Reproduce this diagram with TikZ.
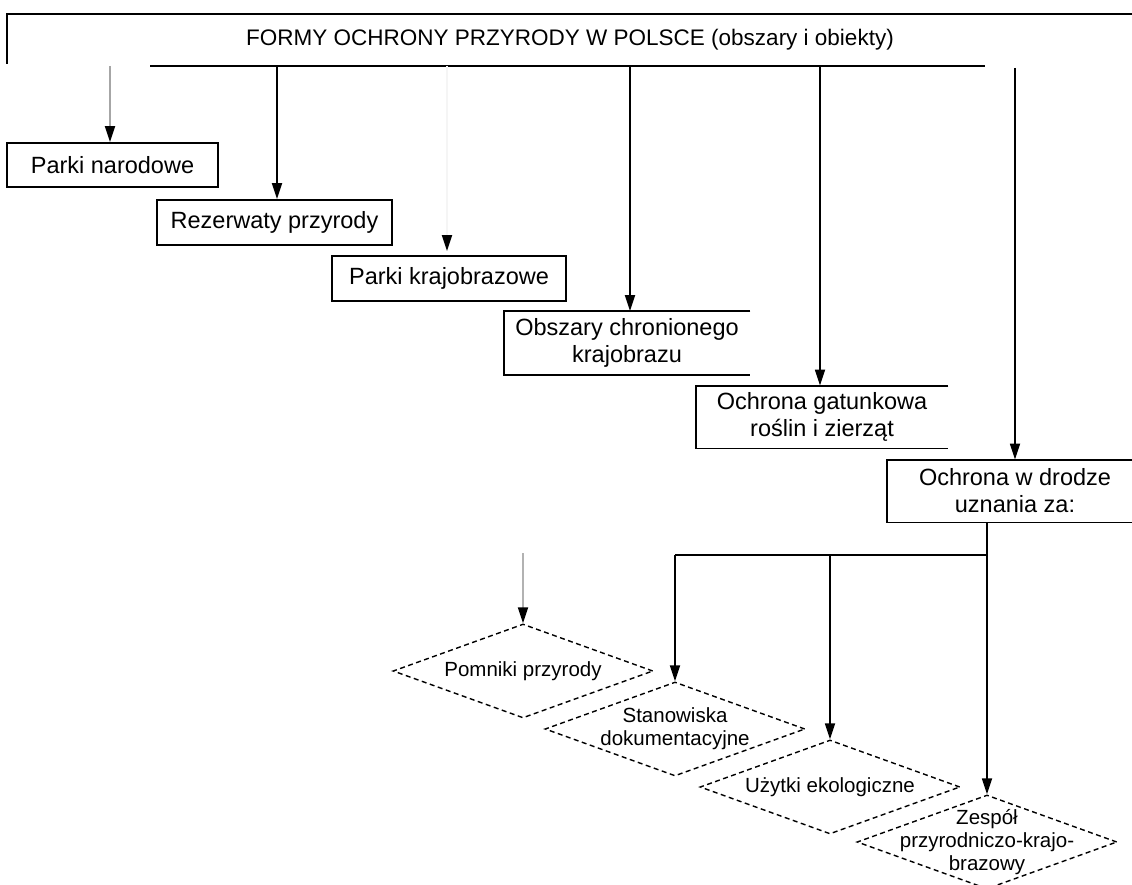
\documentclass[tikz,border=0pt]{standalone}
\usepackage{fontspec}
\setmainfont{Liberation Sans}
\usetikzlibrary{arrows.meta}
\usetikzlibrary{shapes.geometric}
\usetikzlibrary{positioning}

\tikzset{
  forma/.style={align=center, inner sep=0pt, font=\fontsize{23.5}{27}\selectfont},
  obiekt/.style={diamond, draw, dash pattern=on 5pt off 3.5pt, line width=1.4pt,
    minimum width=260pt, minimum height=94pt, inner sep=0pt},
  napis/.style={align=center, inner sep=0pt, font=\fontsize{20.5}{23}\selectfont},
  strz/.style={-{Triangle[length=16pt, width=10pt]}},
  blady/.style={draw=black!#1, -{Triangle[length=16pt, width=10pt, color=black]}}
}

\begin{document}
\begin{tikzpicture}[x=1pt, y=-1pt, line width=1.8pt]
    \useasboundingbox (0, 0) rectangle (1132, 885);

    % naglowek
    \node[inner sep=0pt, font=\fontsize{22.5}{26}\selectfont] (formy) at (570, 40)
      {FORMY OCHRONY PRZYRODY W POLSCE (obszary i obiekty)};
    \draw (1132, 14) -- (7, 14) -- (7, 64);
    \draw (150, 66) -- (985, 66);

    % obszary
    \node[forma, draw, minimum width=211pt, minimum height=44pt] (narodowe) at (112.5, 165) {Parki narodowe};
    \node[forma, draw, minimum width=235pt, minimum height=45pt] (rezerwaty) at (274.5, 222.5) {Rezerwaty przyrody};
    \node[forma, draw, minimum width=234pt, minimum height=45pt] (krajobrazowe) at (449, 278.5) {Parki krajobrazowe};
    \node[forma, minimum width=245pt, minimum height=62pt] (chronione) at (627, 343) {Obszary chronionego\\krajobrazu};
    \node[forma, minimum width=251pt, minimum height=61pt] (gatunkowa) at (822, 417) {Ochrona gatunkowa\\roślin i zierząt};
    \node[forma, minimum width=254pt, minimum height=61pt] (uznanie) at (1015, 491) {Ochrona w drodze\\uznania za:};
    \draw (chronione.north east) -- (chronione.north west) -- (chronione.south west) -- (chronione.south east);
    \draw (gatunkowa.north east) -- (gatunkowa.north west) -- (gatunkowa.south west) -- (gatunkowa.south east);
    \draw (uznanie.north east) -- (uznanie.north west) -- (uznanie.south west) -- (uznanie.south east);

    \coordinate (f1) at (110, 66);
    \coordinate (f2) at (277, 66);
    \coordinate (f3) at (447, 66);
    \coordinate (f4) at (630, 66);
    \coordinate (f5) at (820, 66);
    \coordinate (f6) at (1015, 68);
    \draw[blady=35] (f1) -- (f1 |- narodowe.north);
    \draw[strz] (f2) -- (f2 |- rezerwaty.north);
    \draw[blady=4, shorten >=4pt] (f3) -- (f3 |- krajobrazowe.north);
    \draw[strz] (f4) -- (f4 |- chronione.north);
    \draw[strz] (f5) -- (f5 |- gatunkowa.north);
    \draw[strz] (f6) -- (f6 |- uznanie.north);

    % obiekty
    \node[obiekt, label={[napis]center:Pomniki przyrody}] (pomniki) at (523, 671) {};
    \node[obiekt, label={[napis]center:Stanowiska\\dokumentacyjne}] (stanowiska) at (675, 729) {};
    \node[obiekt, label={[napis]center:Użytki ekologiczne}] (uzytki) at (830, 787) {};
    \node[obiekt, label={[napis]center:Zespół\\przyrodniczo-krajo-\\brazowy}] (zespol) at (987, 842) {};

    \coordinate (s0) at (523, 553);
    \coordinate (s1) at (675, 555);
    \coordinate (s2) at (830, 555);
    \coordinate (s3) at (987, 555);
    \draw (s1) -- (s3);
    \draw[blady=30] (s0) -- (pomniki.north);
    \draw[strz] (s1) -- (stanowiska.north);
    \draw[strz] (s2) -- (uzytki.north);
    \draw[strz] (uznanie.south -| s3) -- (zespol.north);
  \end{tikzpicture}
\end{document}
